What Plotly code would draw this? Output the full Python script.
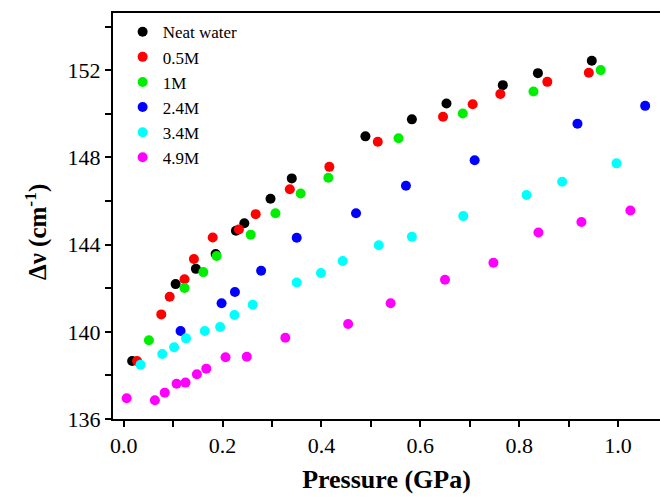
import plotly.graph_objects as go

# Pressure (GPa) and Raman shift (cm^-1) per series
neat_p = [0.017, 0.105, 0.146, 0.186, 0.227, 0.244, 0.297, 0.340, 0.489, 0.583, 0.653, 0.767, 0.838, 0.947]
neat_v = [138.66, 142.19, 142.89, 143.57, 144.64, 144.98, 146.11, 147.04, 148.97, 149.75, 150.48, 151.32, 151.87, 152.44]

m05_p = [0.027, 0.076, 0.093, 0.123, 0.142, 0.180, 0.233, 0.267, 0.336, 0.416, 0.514, 0.646, 0.706, 0.762, 0.857, 0.941]
m05_v = [138.66, 140.80, 141.61, 142.41, 143.34, 144.33, 144.70, 145.40, 146.54, 147.57, 148.72, 149.87, 150.44, 150.91, 151.47, 151.89]

m1_p = [0.051, 0.123, 0.161, 0.188, 0.257, 0.307, 0.358, 0.414, 0.556, 0.686, 0.829, 0.965]
m1_v = [139.61, 142.01, 142.74, 143.48, 144.46, 145.44, 146.35, 147.07, 148.88, 150.02, 151.03, 152.01]

m24_p = [0.115, 0.198, 0.225, 0.278, 0.350, 0.470, 0.571, 0.710, 0.918, 1.055]
m24_v = [140.04, 141.31, 141.83, 142.80, 144.32, 145.44, 146.70, 147.87, 149.55, 150.37]

m34_p = [0.034, 0.078, 0.102, 0.126, 0.164, 0.195, 0.224, 0.261, 0.350, 0.399, 0.443, 0.516, 0.583, 0.687, 0.815, 0.887, 0.997]
m34_v = [138.49, 138.98, 139.29, 139.70, 140.04, 140.22, 140.77, 141.24, 142.26, 142.70, 143.25, 143.97, 144.36, 145.31, 146.28, 146.89, 147.73]

m49_p = [0.006, 0.063, 0.083, 0.107, 0.125, 0.148, 0.167, 0.206, 0.249, 0.327, 0.454, 0.540, 0.650, 0.748, 0.839, 0.926, 1.025]
m49_v = [136.95, 136.86, 137.21, 137.62, 137.67, 138.05, 138.31, 138.83, 138.86, 139.73, 140.36, 141.31, 142.39, 143.17, 144.56, 145.04, 145.57]

series_names = ["Neat water", "0.5M", "1M", "2.4M", "3.4M", "4.9M"]
series_colors = ["#000000", "#ff0000", "#00ee00", "#0000ff", "#00ffff", "#ff00ff"]
series_x = [neat_p, m05_p, m1_p, m24_p, m34_p, m49_p]
series_y = [neat_v, m05_v, m1_v, m24_v, m34_v, m49_v]

x_ticks = [0.0, 0.2, 0.4, 0.6, 0.8, 1.0]
y_ticks = [136, 140, 144, 148, 152]

fig = go.Figure()
for name, col, xs, ys in zip(series_names, series_colors, series_x, series_y):
    fig.add_trace(go.Scatter(x=xs, y=ys, mode="markers", name=name,
                             marker=dict(color=col, size=10, line=dict(width=0))))

serif = "Liberation Serif"
fig.update_layout(
    width=660, height=497,
    margin=dict(l=113, r=0, t=13, b=78),
    paper_bgcolor="white", plot_bgcolor="white",
    font=dict(family=serif, color="black"),
    showlegend=True,
    legend=dict(x=0.0176, y=0.997, xanchor="left", yanchor="top",
                font=dict(family=serif, size=17, color="black"),
                bgcolor="rgba(0,0,0,0)", itemwidth=30, tracegroupgap=0),
    annotations=[dict(text="<b>Δν (cm<sup>-1</sup>)</b>", textangle=-90,
                      xref="paper", yref="paper", x=-0.14, y=0.4616,
                      xanchor="center", yanchor="middle", showarrow=False,
                      font=dict(family=serif, size=25, color="black"))],
)
fig.update_xaxes(
    range=[-0.0217, 1.085],
    tickvals=x_ticks, ticktext=[f"{v:.1f}" for v in x_ticks],
    ticks="outside", ticklen=6, tickwidth=2, tickcolor="black",
    minor=dict(dtick=0.1, tick0=0, ticks="outside", ticklen=6, tickwidth=2, tickcolor="black"),
    showline=True, linewidth=2, linecolor="black", mirror=True,
    showgrid=False, zeroline=False,
    tickfont=dict(family=serif, size=22, color="black"),
    title=dict(text="<b>Pressure (GPa)</b>", font=dict(family=serif, size=26, color="black"), standoff=12),
)
fig.update_yaxes(
    range=[136, 154.63],
    tickvals=y_ticks,
    ticks="outside", ticklen=6, tickwidth=2, tickcolor="black",
    minor=dict(dtick=2, tick0=136, ticks="outside", ticklen=6, tickwidth=2, tickcolor="black"),
    showline=True, linewidth=2, linecolor="black", mirror=False,
    showgrid=False, zeroline=False,
    tickfont=dict(family=serif, size=22, color="black"),
)
fig.write_html("out.html")
